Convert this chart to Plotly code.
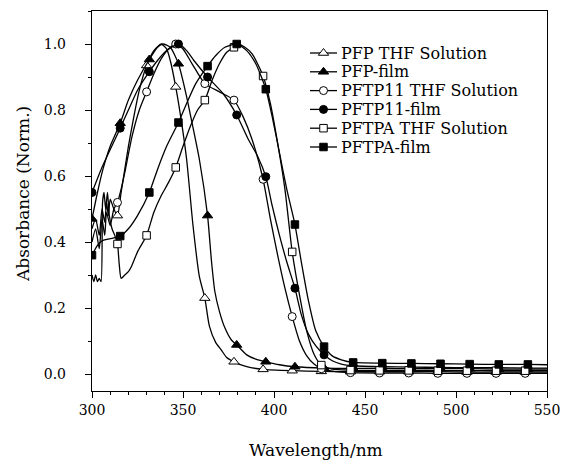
import plotly.graph_objects as go

# ---------------- data ----------------
# PFP THF Solution (open triangle)
pfp_sol_wl = [300, 302, 304, 305.5, 307, 308, 309, 310, 312, 314, 316, 318, 320, 323, 326, 330,
              334, 338, 341, 343, 346, 349, 352, 355.5, 359, 362, 364.5, 368, 371, 374, 378,
              385, 394, 410, 426, 442, 458, 474, 490, 506, 522, 538, 550]
pfp_sol_abs = [0.44, 0.47, 0.42, 0.50, 0.46, 0.52, 0.48, 0.53, 0.50, 0.48, 0.55, 0.62, 0.69, 0.78, 0.86, 0.935,
               0.98, 1.0, 0.985, 0.95, 0.87, 0.77, 0.65, 0.45, 0.295, 0.23, 0.145, 0.095, 0.073, 0.05, 0.037,
               0.022, 0.014, 0.010, 0.008, 0.007, 0.007, 0.007, 0.007, 0.006, 0.006, 0.006, 0.006]

# PFP-film (filled triangle)
pfp_film_wl = [300, 303, 306, 310, 315.5, 320, 325, 331.5, 336, 339, 343, 347.5, 352, 355, 359,
               363.5, 365.6, 367.5, 370, 373, 376.6, 379.5, 385, 390, 395.5, 403, 411.5, 427.5,
               443.5, 459.5, 475.5, 491.5, 507.5, 523.5, 539.5, 550]
pfp_film_abs = [0.47, 0.55, 0.62, 0.69, 0.76, 0.83, 0.89, 0.953, 0.99, 1.0, 0.99, 0.94, 0.84, 0.76, 0.65,
                0.48, 0.345, 0.25, 0.19, 0.14, 0.103, 0.088, 0.058, 0.045, 0.037, 0.028, 0.022, 0.018,
                0.017, 0.017, 0.016, 0.016, 0.016, 0.015, 0.015, 0.015]

# PFTP11 THF Solution (open circle)
pftp11_sol_wl = [300, 302, 304, 305.5, 307, 308, 310, 312, 314, 316, 318, 322, 326, 330, 334, 338,
                 342, 346, 350, 355, 362, 370, 378, 383, 388, 394, 398, 402, 406, 410, 414, 418,
                 422, 426, 434, 442, 458, 474, 490, 506, 522, 538, 550]
pftp11_sol_abs = [0.40, 0.44, 0.38, 0.47, 0.42, 0.49, 0.45, 0.50, 0.52, 0.56, 0.61, 0.72, 0.80, 0.855, 0.91, 0.955,
                  0.985, 1.0, 0.985, 0.94, 0.88, 0.855, 0.83, 0.78, 0.71, 0.59, 0.47, 0.36, 0.26, 0.174, 0.10, 0.055,
                  0.03, 0.016, 0.007, 0.004, 0.003, 0.003, 0.002, 0.002, 0.002, 0.002, 0.002]

# PFTP11-film (filled circle)
pftp11_film_wl = [300, 305, 310, 315.5, 320, 325, 331.5, 336, 341, 347.5, 352, 356, 363.5, 372,
                  379.5, 386, 391, 395.5, 399, 403, 407, 411.5, 415, 419, 423, 427.5, 432, 437,
                  443.5, 459.5, 475.5, 491.5, 507.5, 523.5, 539.5, 550]
pftp11_film_abs = [0.55, 0.62, 0.68, 0.745, 0.80, 0.86, 0.916, 0.95, 0.98, 1.0, 0.98, 0.95, 0.90, 0.85,
                   0.785, 0.71, 0.66, 0.598, 0.51, 0.42, 0.34, 0.26, 0.18, 0.12, 0.085, 0.058, 0.04, 0.03,
                   0.025, 0.022, 0.021, 0.020, 0.019, 0.019, 0.018, 0.018]

# PFTPA THF Solution (open square)
pftpa_sol_wl = [300, 301, 302, 303, 304, 305, 305.8, 306.6, 307.5, 308.5, 309.5, 311, 312.5, 314, 315,
                316, 318, 320, 321.6, 325, 330, 334, 338, 342, 346, 350, 354, 358, 362, 366, 370,
                374, 378, 380, 384, 388, 394, 398, 402, 406, 410, 414, 418, 422, 426, 432, 442,
                458, 474, 490, 506, 522, 538, 550]
pftpa_sol_abs = [0.30, 0.28, 0.30, 0.28, 0.29, 0.28, 0.52, 0.55, 0.50, 0.55, 0.48, 0.44, 0.42, 0.394, 0.33,
                 0.29, 0.30, 0.31, 0.325, 0.37, 0.42, 0.49, 0.54, 0.58, 0.626, 0.69, 0.75, 0.80, 0.83, 0.89, 0.94,
                 0.975, 0.99, 1.0, 0.99, 0.97, 0.903, 0.82, 0.70, 0.56, 0.37, 0.24, 0.13, 0.06, 0.027, 0.015, 0.012,
                 0.011, 0.011, 0.010, 0.010, 0.010, 0.010, 0.010]

# PFTPA-film (filled square)
pftpa_film_wl = [300, 303, 306, 310, 315.5, 320, 325, 331.5, 336, 341, 347.5, 352, 357, 363.5, 368,
                 373, 379.5, 385, 390, 395.5, 399, 403, 407, 411.5, 415, 419, 423, 427.5, 432, 437,
                 443.5, 459.5, 475.5, 491.5, 507.5, 523.5, 539.5, 550]
pftpa_film_abs = [0.36, 0.39, 0.405, 0.41, 0.418, 0.44, 0.48, 0.55, 0.62, 0.69, 0.762, 0.82, 0.88, 0.933, 0.965,
                  0.99, 1.0, 0.98, 0.94, 0.863, 0.78, 0.67, 0.56, 0.453, 0.34, 0.22, 0.13, 0.083, 0.055, 0.043,
                  0.035, 0.033, 0.032, 0.031, 0.030, 0.029, 0.029, 0.028]

# wavelengths at which symbols are drawn
sol_marks = [314, 330, 346, 362, 378, 394, 410, 426, 442, 458, 474, 490, 506, 522, 538]
film_marks = [300, 315.5, 331.5, 347.5, 363.5, 379.5, 395.5, 411.5, 427.5, 443.5, 459.5,
              475.5, 491.5, 507.5, 523.5, 539.5]

x_ticks = [300, 350, 400, 450, 500, 550]
y_ticks = [0.0, 0.2, 0.4, 0.6, 0.8, 1.0]

names = ["PFP THF Solution", "PFP-film", "PFTP11 THF Solution", "PFTP11-film",
         "PFTPA THF Solution", "PFTPA-film"]
series = [
    (names[0], pfp_sol_wl, pfp_sol_abs, sol_marks, "triangle-up-open"),
    (names[1], pfp_film_wl, pfp_film_abs, film_marks, "triangle-up"),
    (names[2], pftp11_sol_wl, pftp11_sol_abs, sol_marks, "circle-open"),
    (names[3], pftp11_film_wl, pftp11_film_abs, film_marks, "circle"),
    (names[4], pftpa_sol_wl, pftpa_sol_abs, sol_marks, "square-open"),
    (names[5], pftpa_film_wl, pftpa_film_abs, film_marks, "square"),
]

FONT = "DejaVu Serif"
W, H = 562, 461
L, R, T, B = 92, 15, 11, 70
PW, PH = W - L - R, H - T - B

fig = go.Figure()


def marker_style(sym):
    open_sym = sym.endswith("open")
    msym = sym.replace("-open", "")
    mcolor = "white" if open_sym else "black"
    msize = 9 if "triangle" in sym else (8 if "circle" in sym else 7.5)
    return dict(symbol=msym, size=msize, color=mcolor, line=dict(color="black", width=1))


for name, wl, ab, marks, sym in series:
    fig.add_trace(go.Scatter(x=wl, y=ab, mode="lines", name=name,
                             line=dict(color="black", width=1.3, shape="spline", smoothing=0.6),
                             showlegend=False, hoverinfo="skip"))
    mx = [w for w in wl if w in marks]
    my = [a for w, a in zip(wl, ab) if w in marks]
    fig.add_trace(go.Scatter(x=mx, y=my, mode="markers", name=name, showlegend=False,
                             marker=marker_style(sym)))

# ---- legend drawn on an overlay axis measured in pixels ----
leg_x0, leg_x1, leg_text_x = 310, 337, 339
leg_y0, leg_dy = 53, 18.8
for i, (name, wl, ab, marks, sym) in enumerate(series):
    yy = leg_y0 + i * leg_dy
    fig.add_trace(go.Scatter(x=[leg_x0, leg_x1], y=[yy, yy], mode="lines", xaxis="x2", yaxis="y2",
                             line=dict(color="black", width=1.3), showlegend=False, hoverinfo="skip"))
    fig.add_trace(go.Scatter(x=[(leg_x0 + leg_x1) / 2], y=[yy], mode="markers", xaxis="x2", yaxis="y2",
                             marker=marker_style(sym), showlegend=False, hoverinfo="skip"))
    fig.add_annotation(x=leg_text_x, y=yy, xref="x2", yref="y2", text=name, showarrow=False,
                       xanchor="left", yanchor="middle",
                       font=dict(family=FONT, size=16, color="black"))

axis_common = dict(showline=True, linecolor="black", linewidth=1.4, mirror=True,
                   ticks="outside", tickcolor="black", ticklen=6, tickwidth=1,
                   showgrid=False, zeroline=False, automargin=False,
                   ticklabelposition="outside",
                   tickfont=dict(family=FONT, size=14, color="black"))

fig.update_layout(
    xaxis=dict(range=[300, 550], tickvals=x_ticks, ticklabelstandoff=0,
               minor=dict(dtick=10, ticklen=3, ticks="outside", tickcolor="black", showgrid=False),
               **axis_common),
    yaxis=dict(range=[-0.0515, 1.1], tickvals=y_ticks, tickformat=".1f", ticklabelstandoff=16,
               minor=dict(dtick=0.1, ticklen=3, ticks="outside", tickcolor="black", showgrid=False),
               **axis_common),
    xaxis2=dict(overlaying="x", range=[L, W - R], visible=False, automargin=False),
    yaxis2=dict(overlaying="y", range=[H - B, T], visible=False, automargin=False),
    width=W, height=H,
    margin=dict(l=L, r=R, t=T, b=B, autoexpand=False),
    paper_bgcolor="white", plot_bgcolor="white",
    font=dict(family=FONT, size=14, color="black"),
    showlegend=False,
)

# axis titles (positions in paper units, computed from pixel targets)
fig.add_annotation(x=(316 - L) / PW, y=(H - B - 450) / PH, xref="paper", yref="paper",
                   text="Wavelength/nm", showarrow=False, xanchor="center", yanchor="middle",
                   font=dict(family=FONT, size=17, color="black"))
fig.add_annotation(x=(23 - L) / PW, y=(H - B - 194) / PH, xref="paper", yref="paper",
                   text="Absorbance (Norm.)", showarrow=False, textangle=-90,
                   xanchor="center", yanchor="middle",
                   font=dict(family=FONT, size=17, color="black"))

fig.write_html("out.html", config={"displayModeBar": False},
               post_script="document.body.style.margin='0px';")
